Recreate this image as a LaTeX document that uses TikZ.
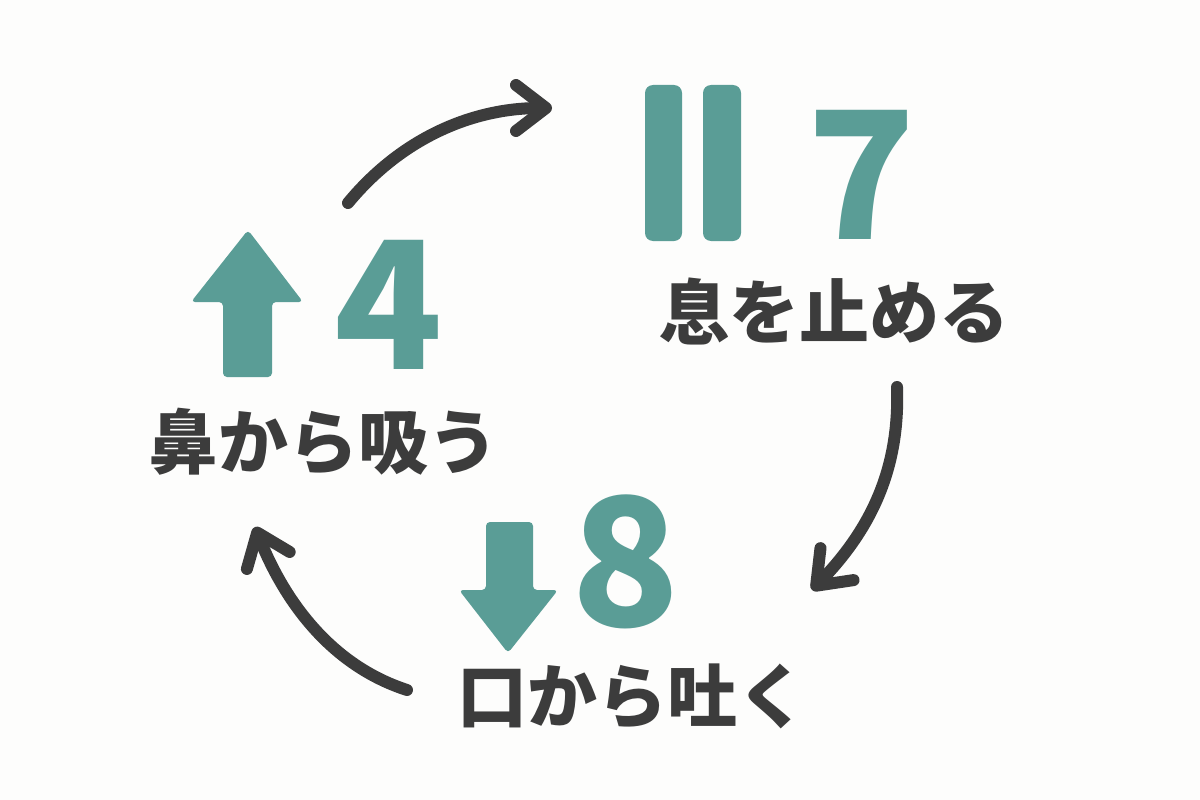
\documentclass[tikz,border=0pt]{standalone}
\usepackage{fontspec}
\newfontfamily\jp{Noto Sans CJK JP}
\usetikzlibrary{arrows.meta}
\definecolor{teal1}{RGB}{90,157,150}
\definecolor{ink}{RGB}{60,60,60}
\definecolor{bg}{RGB}{253,253,252}
\tikzset{
  jlabel/.style={font=\jp\bfseries\fontsize{70}{70}\selectfont, text=ink, inner sep=0pt},
  numtext/.style={font=\jp\bfseries\fontsize{178}{178}\selectfont, text=teal1, inner sep=0pt},
  shapefill/.style={fill=teal1, rounded corners=4pt},
  flow/.style={draw=ink, line width=12pt, line cap=round, -{Straight Barb[length=30pt,width=46pt,round]}}
}
\begin{document}
\begin{tikzpicture}[x=1pt,y=-1pt]
\fill[bg] (0,0) rectangle (1200,800);
\useasboundingbox (0,0) rectangle (1200,800);
% up arrow
\fill[shapefill] (248,230) -- (303,302) -- (272,302) -- (272,377) -- (223,377) -- (223,302) -- (191,302) -- cycle;
% down arrow
\fill[shapefill] (486,522) -- (533,522) -- (533,590) -- (558,590) -- (508,653) -- (459,590) -- (486,590) -- cycle;
% pause bars
\fill[teal1, rounded corners=8pt] (645,85) rectangle (682,241);
\fill[teal1, rounded corners=8pt] (703,85) rectangle (741,241);
% numbers
\node[numtext] (n4) at (389,305) {4};
\node[numtext] (n7) at (862,175) {7};
\node[numtext] (n8) at (626,562) {8};
% labels
\node[jlabel] (t1) at (323,442) {鼻から吸う};
\node[jlabel] (t2) at (834,311) {息を止める};
\node[jlabel] (t3) at (632,697) {口から吐く};
% connectors
\coordinate (a1s) at (348,203); \coordinate (a1e) at (552,108);
\coordinate (a2s) at (897,387); \coordinate (a2e) at (812,590);
\coordinate (a3s) at (407,690); \coordinate (a3e) at (255,527);
\draw[flow] (a1s) .. controls (400,140) and (470,108) .. (a1e);
\draw[flow] (a2s) .. controls (900,470) and (870,530) .. (a2e);
\draw[flow] (a3s) .. controls (330,665) and (284,600) .. (a3e);
\end{tikzpicture}
\end{document}
